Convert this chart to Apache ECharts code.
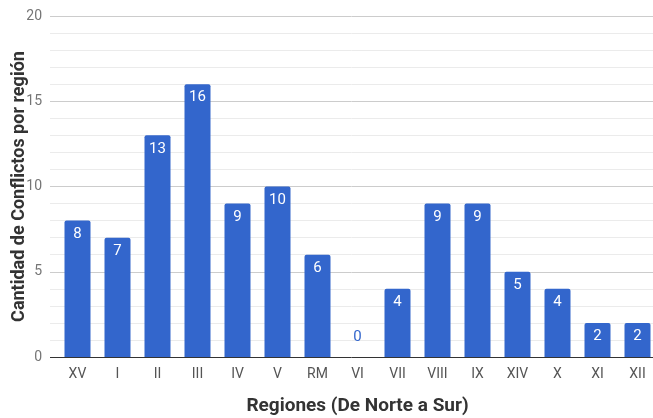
<!DOCTYPE html>
<html><head><meta charset="utf-8">
<script src="https://cdn.jsdelivr.net/npm/echarts@6/dist/echarts.min.js"></script>
<style>html,body{margin:0;padding:0;background:#fff}#c{width:653px;height:418px}</style>
</head><body><div id="c"></div>
<script>
const categories = ['XV','I','II','III','IV','V','RM','VI','VII','VIII','IX','XIV','X','XI','XII'];
const values = [8,7,13,16,9,10,6,0,4,9,9,5,4,2,2];
const yTicks = [0,5,10,15,20];

const gridColors = [];
for (let i = 0; i <= 20; i++) gridColors.push(i === 0 ? '#333333' : (i % 5 === 0 ? '#cccccc' : '#ebebeb'));

const chart = echarts.init(document.getElementById('c'));
chart.setOption({
  animation: false,
  textStyle: {fontFamily: 'Roboto'},
  grid: [
    {left: 57.5, right: -4.5, top: 16, bottom: 61, containLabel: false, outerBoundsMode: 'none'},
    {left: 50, right: 0, top: 16, bottom: 61, containLabel: false, outerBoundsMode: 'none'}
  ],
  xAxis: [{
    type: 'category', data: categories, gridIndex: 0,
    name: 'Regiones (De Norte a Sur)', nameLocation: 'middle', nameGap: 40, nameMoveOverlap: false,
    nameTextStyle: {fontSize: 19, fontWeight: 'bold', color: '#333', fontFamily: 'Roboto'},
    axisLine: {show: false},
    axisTick: {show: false},
    axisLabel: {color: '#555', fontSize: 14, margin: 10, fontFamily: 'Roboto'}
  }, {
    type: 'value', gridIndex: 1, show: false, min: 0, max: 1
  }],
  yAxis: [{
    type: 'value', gridIndex: 0, min: 0, max: 20, interval: 1, show: false
  }, {
    type: 'value', gridIndex: 1, min: 0, max: 20, interval: 1,
    name: 'Cantidad de Conflictos por región', nameLocation: 'middle', nameGap: 22, nameMoveOverlap: false,
    nameTextStyle: {fontSize: 18, fontWeight: 'bold', color: '#333', fontFamily: 'Roboto'},
    axisLine: {show: false}, axisTick: {show: false},
    axisLabel: {color: '#757575', fontSize: 14, margin: 8, fontFamily: 'Roboto',
      formatter: v => yTicks.includes(v) ? String(v) : ''},
    splitLine: {lineStyle: {color: gridColors, width: 1}}
  }],
  series: [{
    type: 'bar', xAxisIndex: 0, yAxisIndex: 0, barWidth: 26,
    z: 3,
    itemStyle: {color: '#3366cc', borderRadius: [2,2,0,0]},
    label: {show: true, position: 'insideTop', distance: 6, color: '#fff', fontSize: 15, fontFamily: 'Roboto'},
    data: values.map(v => v === 0
      ? {value: v, label: {position: 'top', distance: 12, color: '#3366cc'}}
      : v)
  }]
});
</script></body></html>
